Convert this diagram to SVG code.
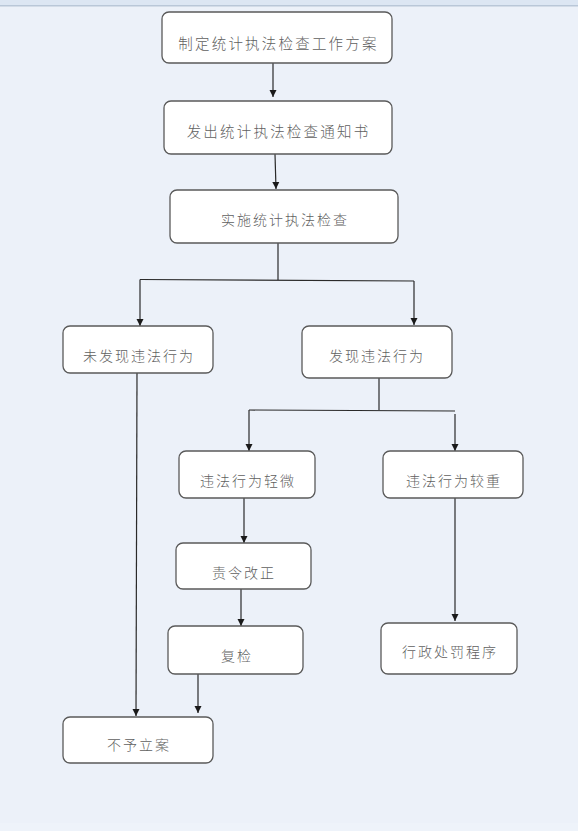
<svg xmlns="http://www.w3.org/2000/svg" width="578" height="831" viewBox="0 0 578 831">
<defs>
<style>
.box{fill:#ffffff;stroke:#5a5a5a;stroke-width:1.3}
.lbl{font-family:"Noto Sans CJK SC","Noto Sans CJK JP",sans-serif;font-size:14px;font-weight:300;fill:#5f5f5f;text-anchor:middle;dominant-baseline:central;letter-spacing:2px}
.big{font-size:14.5px;letter-spacing:2.2px}
.ln{fill:none;stroke:#2a2a2a;stroke-width:1.2}
.ar{fill:none;stroke:#2a2a2a;stroke-width:1.2;marker-end:url(#ah)}
</style>
<marker id="ah" viewBox="0 0 10 10" refX="10" refY="5" markerWidth="7" markerHeight="8" markerUnits="userSpaceOnUse" orient="auto">
<path d="M0,0 L10,5 L0,10 Z" fill="#1a1a1a"/>
</marker>
</defs>
<rect x="0" y="0" width="578" height="831" fill="#ECF1F9"/>
<rect x="0" y="0" width="578" height="5" fill="#DCE6F3"/>
<rect x="0" y="5" width="578" height="1.5" fill="#B9C7D8"/>
<rect x="0" y="823" width="578" height="8" fill="#EEF3FA"/>

<g id="connectors">
<path class="ar" d="M273,63 L273,97"/>
<path class="ar" d="M275,154 L276,189"/>
<path class="ln" d="M278,243 L278,280"/>
<path class="ln" d="M140,279.5 L414,281"/>
<path class="ar" d="M140,279.5 L140,326"/>
<path class="ar" d="M414,281 L414,325"/>
<path class="ln" d="M379,378 L379,410"/>
<path class="ln" d="M249,410 L455,411"/>
<path class="ar" d="M249,410 L249,451"/>
<path class="ar" d="M455,414 L455,451"/>
<path class="ar" d="M137,373 L136,716"/>
<path class="ar" d="M244,498 L244,543"/>
<path class="ar" d="M241,589 L241,626"/>
<path class="ar" d="M198,674 L198,713"/>
<path class="ar" d="M455,498 L455,621"/>
</g>

<g id="n1"><rect class="box" x="162" y="12" width="230" height="51" rx="7"/><text class="lbl big" x="278.5" y="42">制定统计执法检查工作方案</text></g>
<g id="n2"><rect class="box" x="164" y="101" width="228" height="53" rx="7"/><text class="lbl big" x="278.5" y="130">发出统计执法检查通知书</text></g>
<g id="n3"><rect class="box" x="170" y="190" width="228" height="53" rx="7"/><text class="lbl" x="285" y="219">实施统计执法检查</text></g>
<g id="n4"><rect class="box" x="63" y="326" width="150" height="47" rx="7"/><text class="lbl" x="139" y="355">未发现违法行为</text></g>
<g id="n5"><rect class="box" x="302" y="326" width="150" height="52" rx="7"/><text class="lbl" x="377" y="355">发现违法行为</text></g>
<g id="n6"><rect class="box" x="179" y="451" width="136" height="47" rx="7"/><text class="lbl" x="248" y="480">违法行为轻微</text></g>
<g id="n7"><rect class="box" x="383" y="451" width="140" height="47" rx="7"/><text class="lbl" x="454" y="480">违法行为较重</text></g>
<g id="n8"><rect class="box" x="176" y="543" width="135" height="46" rx="7"/><text class="lbl" x="244" y="572">责令改正</text></g>
<g id="n9"><rect class="box" x="168" y="626" width="135" height="48" rx="7"/><text class="lbl" x="237" y="655">复检</text></g>
<g id="n10"><rect class="box" x="63" y="717" width="150" height="46" rx="7"/><text class="lbl" x="139" y="744">不予立案</text></g>
<g id="n11"><rect class="box" x="381" y="623" width="136" height="51" rx="7"/><text class="lbl" x="450" y="651">行政处罚程序</text></g>
</svg>
